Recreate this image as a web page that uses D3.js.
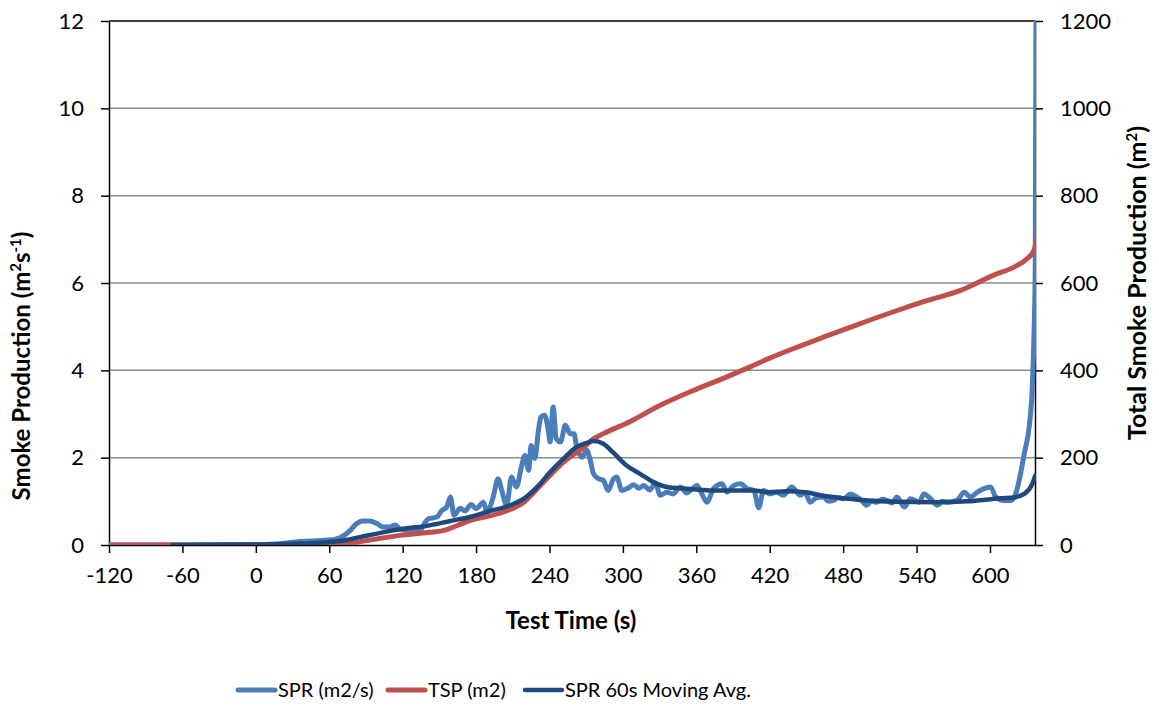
<!DOCTYPE html>
<html>
<head>
<meta charset="utf-8">
<script src="https://cdn.jsdelivr.net/npm/d3@7"></script>
<style>
  body { margin: 0; background: #fff; }
  text { font-family: Lato, "Noto Sans", sans-serif; fill: #000; }
</style>
</head>
<body>
<svg id="chart" width="1159" height="706"></svg>
<script>
// Smoke production rate, m2/s  [time, value]
let sprData = [
  [-120, 0], [-60, 0], [0, 0.01], [20, 0.03], [36, 0.08], [50, 0.1], [63, 0.12], [69, 0.17],
  [77, 0.33], [82, 0.48], [87, 0.55], [93, 0.55], [99, 0.49], [104, 0.41], [110, 0.42],
  [114, 0.46], [118, 0.36], [126, 0.33], [134, 0.32], [137, 0.45], [141, 0.6], [148, 0.64],
  [152, 0.79], [156, 0.87], [159, 1.1], [162, 0.68], [167, 0.84], [171, 0.78], [176, 0.93],
  [180, 0.83], [186, 0.98], [189, 0.75], [194, 1.1], [198, 1.52], [201, 1.25], [205, 0.91],
  [209, 1.56], [213, 1.33], [217, 1.78], [220, 2.05], [223, 1.71], [225, 2.28], [228, 1.98],
  [231, 2.63], [233, 2.93], [236, 2.97], [239, 2.63], [240.5, 2.36], [243, 3.16], [245.5, 2.44],
  [249, 2.36], [253, 2.74], [257, 2.55], [260, 2.55], [262, 2.28], [266.5, 2.01], [270.5, 2.17],
  [273, 1.98], [276, 1.63], [280, 1.52], [284, 1.48], [288, 1.25], [292, 1.5], [295, 1.56],
  [299, 1.25], [304, 1.3], [309, 1.38], [313, 1.3], [317, 1.36], [322, 1.26], [326.5, 1.42],
  [330.5, 1.14], [336, 1.21], [341, 1.17], [347, 1.33], [352, 1.19], [356, 1.27], [360.5, 1.36],
  [364, 1.2], [368.7, 0.98], [374, 1.29], [381, 1.4], [385, 1.21], [390.5, 1.36], [396, 1.4],
  [401.5, 1.29], [407, 1.25], [411, 0.85], [415, 1.25], [420.5, 1.17], [426, 1.21], [431, 1.14],
  [438, 1.33], [445, 1.14], [449, 1.2], [453, 0.98], [458, 1.08], [464, 1.1], [468, 1.0],
  [472, 1.02], [476, 1.08], [480.5, 1.06], [486, 1.17], [491, 1.1], [495, 1.02], [499, 0.91],
  [503, 1.0], [507.6, 0.98], [512, 1.05], [516, 1.02], [520, 0.96], [524, 1.1], [530, 0.87],
  [535, 1.06], [542, 0.98], [546, 1.17], [551.5, 1.06], [557, 0.91], [561, 1.0], [565, 0.98],
  [573, 1.02], [579, 1.21], [584, 1.1], [589.7, 1.21], [595, 1.29], [600.6, 1.33], [604.6, 1.1],
  [611.5, 1.02], [617, 1.02], [621, 1.17], [625, 1.63], [628, 2.09], [632, 2.7], [634.6, 3.62],
  [636, 4.85], [637, 6.37], [637.6, 12]
];

// Total smoke production, m2  [time, value]
let tspData = [
  [-120, 0], [-60, 0], [0, 0], [40, 0], [70, 1], [80, 5], [90.6, 10], [118, 22], [142, 29],
  [153, 33], [175, 56], [197, 71], [219, 98], [235, 144], [251.5, 190], [268, 224], [276, 243],
  [284, 255], [306, 283], [330.5, 320], [356, 352], [385, 385], [404, 408], [420, 428],
  [439.6, 450], [465, 477], [494, 507], [520, 533], [549, 560], [576, 583], [603, 618],
  [620, 637], [630.5, 656], [636, 675], [638, 700]
];

// 60 s moving average of SPR, m2/s  [time, value]
let avgData = [
  [-68, 0], [0, 0.01], [30, 0.03], [55, 0.06], [69, 0.09], [85, 0.18], [104, 0.29],
  [120.5, 0.37], [142, 0.45], [159, 0.55], [175, 0.64], [191.5, 0.78], [208, 0.91],
  [219, 1.06], [230, 1.33], [240.5, 1.67], [251.5, 1.98], [262, 2.24], [270.5, 2.34],
  [276, 2.38], [284, 2.32], [292, 2.12], [303, 1.82], [314, 1.63], [325, 1.44], [336, 1.33],
  [352, 1.29], [371.5, 1.25], [390.5, 1.25], [407, 1.25], [418, 1.21], [434, 1.23],
  [450.6, 1.2], [461.5, 1.14], [472, 1.1], [500, 1.02], [527, 0.99], [554.5, 0.98],
  [581.5, 1.0], [608.7, 1.07], [619.6, 1.09], [628, 1.17], [634.6, 1.4], [637, 1.59]
];

let leftTicks = [0, 2, 4, 6, 8, 10, 12];
let rightTicks = [0, 200, 400, 600, 800, 1000, 1200];
let timeTicks = [-120, -60, 0, 60, 120, 180, 240, 300, 360, 420, 480, 540, 600];

let seriesInfo = [
  {name: 'SPR (m2/s)', data: sprData, axis: 'left', color: '#4a7ebb', width: 5},
  {name: 'TSP (m2)', data: tspData, axis: 'right', color: '#c0504d', width: 5},
  {name: 'SPR 60s Moving Avg.', data: avgData, axis: 'left', color: '#1f497d', width: 4.5}
];

let margin = {top: 21, right: 124, bottom: 161, left: 109},
  width = 1159 - margin.left - margin.right,
  height = 706 - margin.top - margin.bottom;

let svg = d3.select('#chart');
let g = svg.append('g')
  .attr('transform', 'translate(' + margin.left + ',' + margin.top + ')');

let xScale = d3.scaleLinear().domain([-120, 636.8]).range([0, width]);
let yLeft = d3.scaleLinear().domain([0, 12]).range([height, 0]);
let yRight = d3.scaleLinear().domain([0, 1200]).range([height, 0]);

// gridlines
g.append('g')
  .selectAll('line')
  .data(leftTicks.filter((d) => d > 0 && d < 12))
  .enter()
  .append('line')
  .attr('x1', 0)
  .attr('x2', width)
  .attr('y1', (d) => yLeft(d))
  .attr('y2', (d) => yLeft(d))
  .style('stroke', '#8c8c8c')
  .style('stroke-width', 1.5);

// top border
g.append('line')
  .attr('x1', 0).attr('x2', width)
  .attr('y1', 0).attr('y2', 0)
  .style('stroke', '#000').style('stroke-width', 1.5);

// axes
let plain = (d) => String(d);
let styleAxis = function (sel) {
  sel.select('.domain').style('stroke', '#000').style('stroke-width', 1.5);
  sel.selectAll('.tick line').style('stroke', '#000').style('stroke-width', 1.5);
  sel.selectAll('.tick text').style('font-size', '22px').style('fill', '#000');
};

g.append('g')
  .attr('transform', 'translate(0,' + height + ')')
  .call(d3.axisBottom(xScale).tickValues(timeTicks).tickFormat(plain)
    .tickSizeInner(8).tickSizeOuter(0).tickPadding(14))
  .call(styleAxis);

g.append('g')
  .call(d3.axisLeft(yLeft).tickValues(leftTicks).tickFormat(plain)
    .tickSizeInner(8).tickSizeOuter(0).tickPadding(17))
  .call(styleAxis);

g.append('g')
  .attr('transform', 'translate(' + width + ',0)')
  .call(d3.axisRight(yRight).tickValues(rightTicks).tickFormat(plain)
    .tickSizeInner(8).tickSizeOuter(0).tickPadding(17))
  .call(styleAxis);

// lines
svg.append('defs').append('clipPath')
  .attr('id', 'plotClip')
  .append('rect')
  .attr('x', 0).attr('y', -1)
  .attr('width', width + 1).attr('height', height + 1);

let lines = g.append('g').attr('clip-path', 'url(#plotClip)');

seriesInfo.forEach(function (s) {
  let yScale = s.axis === 'left' ? yLeft : yRight;
  let line = d3.line()
    .x((d) => xScale(d[0]))
    .y((d) => yScale(d[1]))
    .curve(d3.curveMonotoneX);
  lines.append('path')
    .datum(s.data)
    .attr('d', line)
    .style('fill', 'none')
    .style('stroke', s.color)
    .style('stroke-width', s.width)
    .style('stroke-linejoin', 'round')
    .style('stroke-linecap', 'round');
});

// axis titles
let leftTitle = svg.append('text')
  .attr('transform', 'translate(30,366) rotate(-90)')
  .attr('text-anchor', 'middle')
  .style('font-size', '24px')
  .style('font-weight', 'bold');
leftTitle.append('tspan').text('Smoke Production (m');
leftTitle.append('tspan').attr('baseline-shift', 'super').style('font-size', '15px').text('2');
leftTitle.append('tspan').text('s');
leftTitle.append('tspan').attr('baseline-shift', 'super').style('font-size', '15px').text('-1');
leftTitle.append('tspan').text(')');

let rightTitle = svg.append('text')
  .attr('transform', 'translate(1146,' + (margin.top + height / 2) + ') rotate(-90)')
  .attr('text-anchor', 'middle')
  .style('font-size', '25px')
  .style('font-weight', 'bold');
rightTitle.append('tspan').text('Total Smoke Production (m');
rightTitle.append('tspan').attr('baseline-shift', 'super').style('font-size', '15px').text('2');
rightTitle.append('tspan').text(')');

svg.append('text')
  .attr('x', 571)
  .attr('y', 629)
  .attr('text-anchor', 'middle')
  .style('font-size', '24px')
  .style('font-weight', 'bold')
  .text('Test Time (s)');

// legend
let legendX = [238, 388, 525];
let legend = svg.append('g');
seriesInfo.forEach(function (s, i) {
  let item = legend.append('g')
    .attr('transform', 'translate(' + legendX[i] + ',690)');
  item.append('line')
    .attr('x1', 0).attr('x2', 37)
    .attr('y1', 0).attr('y2', 0)
    .style('stroke', s.color)
    .style('stroke-width', s.width)
    .style('stroke-linecap', 'round');
  item.append('text')
    .attr('x', 40)
    .attr('dy', '0.35em')
    .style('font-size', '20px')
    .text(s.name);
});
</script>
</body>
</html>
